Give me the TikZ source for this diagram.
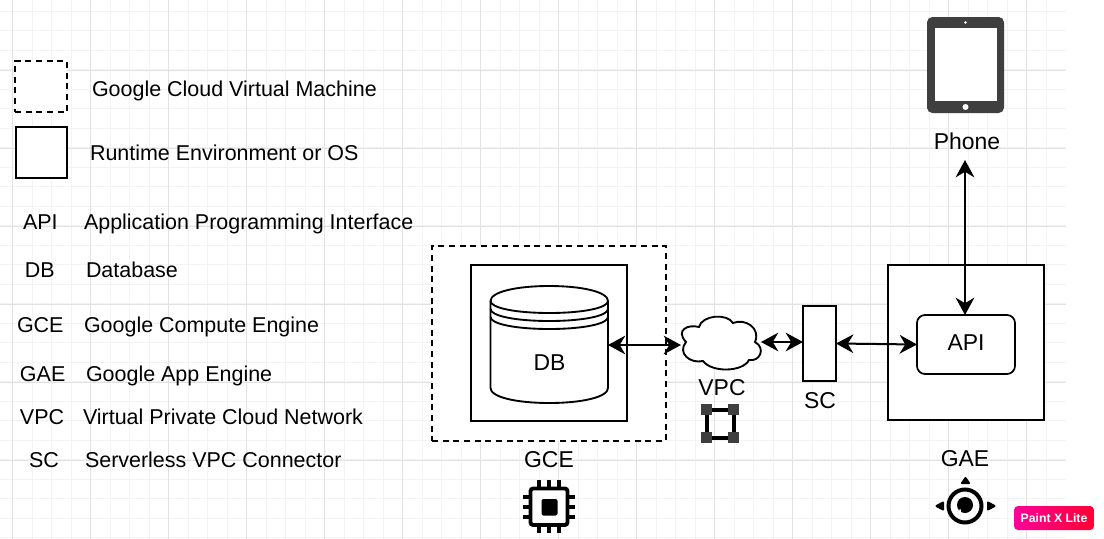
\documentclass[tikz,border=0pt]{standalone}
\usepackage{fontspec}
\setmainfont{Liberation Sans}
\usetikzlibrary{arrows.meta}
\definecolor{gridminor}{HTML}{F3F3F3}
\definecolor{gridmajor}{HTML}{E2E2E2}
\definecolor{icondark}{HTML}{3F3F3F}
\definecolor{badgeL}{HTML}{FF0099}
\definecolor{badgeR}{HTML}{FF0033}
\def\px{0.75pt}
\tikzset{
  x=0.75pt,y=-0.75pt,
  txt/.style={anchor=base west,inner sep=0pt,outer sep=0pt,font=\fontsize{16.1pt}{18pt}\selectfont,text=black},
  lab/.style={inner sep=0pt,outer sep=0pt,font=\fontsize{17.2pt}{20pt}\selectfont,text=black},
  solidbox/.style={draw=black,fill=white,line width=1.6pt,inner sep=0pt,outer sep=0pt},
  dashbox/.style={draw=black,fill=white,line width=1.4pt,dash pattern=on 4.6pt off 3.4pt,inner sep=0pt,outer sep=0pt},
  conn/.style={draw=black,line width=1.5pt,{Stealth[length=13pt,width=14pt,inset=4.2pt]}-{Stealth[length=13pt,width=14pt,inset=4.2pt]},shorten <=0pt,shorten >=0pt},
}
\begin{document}
\begin{tikzpicture}
\useasboundingbox (0,0) rectangle (1104,539);
\fill[white] (0,0) rectangle (1104,539);
% grid
\foreach \k in {0,...,54}{
  \pgfmathsetmacro\gx{-6.8+19.5*\k}
  \draw[gridminor,line width=0.75pt] (\gx,0) -- (\gx,539);
}
\foreach \k in {0,...,27}{
  \pgfmathsetmacro\gy{11+19.5*\k}
  \draw[gridminor,line width=0.75pt] (0,\gy) -- (1066,\gy);
}
\foreach \k in {0,...,13}{
  \pgfmathsetmacro\gx{12.7+78*\k}
  \draw[gridmajor,line width=0.75pt] (\gx,0) -- (\gx,539);
}
\foreach \k in {0,...,6}{
  \pgfmathsetmacro\gy{-8+78*\k}
  \draw[gridmajor,line width=0.75pt] (0,\gy) -- (1066,\gy);
}
% legend
\node[dashbox,minimum width=52*\px,minimum height=51*\px] (legvm) at (41,86.5) {};
\node[solidbox,minimum width=51*\px,minimum height=51*\px] (legrt) at (41.5,152.5) {};
\node[txt] (t1) at (92,96) {Google Cloud Virtual Machine};
\node[txt] (t2) at (90,160) {Runtime Environment or OS};
\node[txt] (a1) at (23,229) {API};
\node[txt] (a2) at (84,229) {Application Programming Interface};
\node[txt] (b1) at (25,277) {DB};
\node[txt] (b2) at (86,277) {Database};
\node[txt] (c1) at (17,332) {GCE};
\node[txt] (c2) at (84,332) {Google Compute Engine};
\node[txt] (d1) at (20,381) {GAE};
\node[txt] (d2) at (86,381) {Google App Engine};
\node[txt] (e1) at (20,424) {VPC};
\node[txt] (e2) at (83,424) {Virtual Private Cloud Network};
\node[txt] (f1) at (29,467) {SC};
\node[txt] (f2) at (85,467) {Serverless VPC Connector};
% GCE
\node[dashbox,minimum width=234*\px,minimum height=195*\px] (gcebox) at (549,343.5) {};
\node[solidbox,minimum width=156*\px,minimum height=156*\px] (dbbox) at (549,343) {};
% cylinder
\node[inner sep=0pt,outer sep=0pt,minimum width=117.5*\px,minimum height=117*\px] (db) at (549.2,344.5) {};
\draw[black,line width=1.4pt,fill=white]
  (490.5,301) .. controls (490.5,292) and (516,286) .. (549.2,286)
  .. controls (582.5,286) and (608,292) .. (608,301)
  -- (608,388) .. controls (608,397) and (582.5,403) .. (549.2,403)
  .. controls (516,403) and (490.5,397) .. (490.5,388) -- cycle;
\foreach \dy in {0,8,16}{
  \draw[black,line width=1.4pt] (490.5,301+\dy) .. controls (490.5,308+\dy) and (516,313+\dy) .. (549.2,313+\dy)
  .. controls (582.5,313+\dy) and (608,308+\dy) .. (608,301+\dy);
}
\node[lab] (dbt) at (549.5,363) {DB};
\node[lab] (gcet) at (549,460) {GCE};
% chip icon
\begin{scope}[black]
\foreach \v in {-10,0,10}{
  \draw[line width=2.9pt] (549+\v,480) -- (549+\v,488);
  \draw[line width=2.9pt] (549+\v,526) -- (549+\v,527+6);
  \draw[line width=2.9pt] (523,507+\v) -- (530,507+\v);
  \draw[line width=2.9pt] (568,507+\v) -- (575,507+\v);
}
\draw[line width=2.9pt,fill=white,rounded corners=2pt] (530.5,488.5) rectangle (567.5,525);
\fill[rounded corners=1.5pt] (541.5,499) rectangle (557.5,515.5);
\end{scope}
% cloud
\coordinate (cloudW) at (681,345);
\coordinate (cloudE) at (761,342);
\draw[black,line width=1.4pt,fill=white]
  (686,342) .. controls (675,330) and (688,324) .. (699,327)
  .. controls (702,315) and (727,313) .. (733,323)
  .. controls (745,318) and (761,328) .. (755,342)
  .. controls (766,348) and (760,362) .. (749,360)
  .. controls (743,372) and (712,373) .. (703,361)
  .. controls (690,364) and (677,353) .. (686,342) -- cycle;
\node[lab] (vpct) at (722,388) {VPC};
% VPC icon
\node[inner sep=0pt,minimum size=38*\px] (vpci) at (720,423.5) {};
\draw[black,line width=3pt] (706.5,409.5) rectangle (733.5,437.5);
\foreach \cx/\cy in {706.5/409.5,733.5/409.5,706.5/437.5,733.5/437.5}{
  \fill[icondark] (\cx-5.5,\cy-5.5) rectangle (\cx+5.5,\cy+5.5);
}
% SC
\node[solidbox,line width=1.5pt,minimum width=33*\px,minimum height=75*\px] (sc) at (819.5,343.5) {};
\node[lab] (sct) at (820,401) {SC};
% GAE
\node[solidbox,minimum width=156*\px,minimum height=155*\px] (gaebox) at (966,342.5) {};
\node[draw=black,fill=white,line width=1.3pt,rounded corners=6pt,inner sep=0pt,outer sep=0pt,minimum width=98*\px,minimum height=59*\px] (api) at (966,344.5) {};
\node[lab] (apit) at (966,343) {API};
\node[lab] (gaet) at (965,459) {GAE};
% GAE icon
\draw[black,line width=3pt] (965,506) circle[radius=16.5];
\fill[black] (965,505) circle[radius=8];
\draw[white,line width=1.2pt] (960,509.5) arc[start angle=200,end angle=20,radius=5];
\fill[black] (964.8,481) circle[radius=0];
\filldraw[black,line width=1.5pt,line join=round] (965.5,478) -- (969,483) -- (962,483) -- cycle;
\filldraw[black,line width=1.5pt,line join=round] (936.5,506) -- (943,502.5) -- (943,509.5) -- cycle;
\filldraw[black,line width=1.5pt,line join=round] (994.5,506) -- (988,502.5) -- (988,509.5) -- cycle;
% tablet
\node[inner sep=0pt,outer sep=0pt,minimum width=77*\px,minimum height=96*\px] (tablet) at (965.5,65) {};
\fill[icondark,rounded corners=4pt] (927,17) rectangle (1004,113);
\fill[white] (934.5,28) rectangle (996.5,101);
\fill[white] (965.5,22.5) circle[radius=1.3];
\fill[white] (965.5,107) circle[radius=3];
\node[lab] (phone) at (967,141) {Phone};
\coordinate (phoneEnd) at (965,160);
% connectors
\draw[conn] (db.east |- cloudW) -- (cloudW);
\draw[conn] (cloudE) -- (sc.west |- cloudE);
\draw[conn] (sc.east) -- (api.west);
\draw[conn] (phoneEnd) -- (phoneEnd |- api.north);
% badge
\node[left color=badgeL,right color=badgeR,rounded corners=3pt,inner sep=0pt,minimum width=80*\px,minimum height=24*\px,text=white,font=\fontsize{9.2pt}{12pt}\selectfont\bfseries] (badge) at (1054,518) {Paint X Lite};
\end{tikzpicture}
\end{document}
